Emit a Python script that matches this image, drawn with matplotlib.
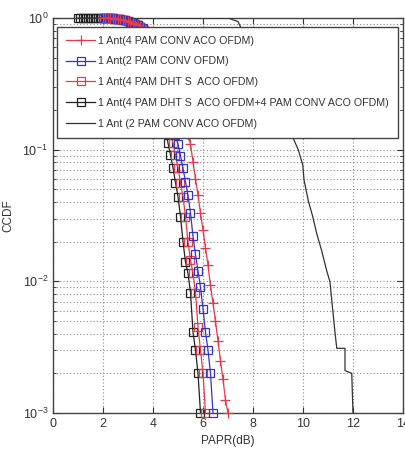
import matplotlib
matplotlib.use("Agg")
import matplotlib.pyplot as plt
from matplotlib.ticker import LogLocator, FixedLocator, NullFormatter

plt.rcParams['font.family'] = ['Liberation Sans', 'DejaVu Sans']

# ---- data ----
# common near-1 head shared by the marker curves (PAPR 2.0 .. 3.5 dB)
head_x = [2.0, 2.1, 2.2, 2.3, 2.4, 2.5, 2.6, 2.7, 2.8, 2.9, 3.0, 3.1, 3.2, 3.3, 3.4, 3.5]
head_ccdf = [1.0, 0.999, 0.998, 0.996, 0.993, 0.99, 0.985, 0.978, 0.97, 0.96,
             0.948, 0.934, 0.918, 0.9, 0.88, 0.86]

# black squares: 4 PAM DHT S ACO + 4 PAM CONV ACO (starts at 1.0 dB)
blk_lead_x = [1.0, 1.1, 1.2, 1.3, 1.4, 1.5, 1.6, 1.7, 1.8, 1.9]
blk_lead_ccdf = [1.0, 1.0, 1.0, 1.0, 1.0, 1.0, 1.0, 1.0, 1.0, 1.0]
blk_x = [3.6, 3.7, 3.8, 3.9, 4.0, 4.1, 4.2, 4.3, 4.4, 4.5,
         4.6, 4.7, 4.8, 4.9, 5.0, 5.1, 5.2, 5.3, 5.4, 5.5, 5.6, 5.7, 5.8, 5.9]
blk_ccdf = [0.82, 0.77, 0.7, 0.62, 0.53, 0.44, 0.35, 0.26, 0.19, 0.145,
            0.112, 0.091, 0.073, 0.056, 0.044, 0.031, 0.02, 0.014, 0.0115,
            0.0082, 0.0041, 0.003, 0.002, 0.001]

# red squares: 4 PAM DHT S ACO OFDM
rsq_x = [3.6, 3.7, 3.8, 3.9, 4.0, 4.1, 4.2, 4.3, 4.4, 4.5, 4.6, 4.7,
         4.8, 4.9, 5.0, 5.1, 5.2, 5.3, 5.4, 5.5, 5.6, 5.7, 5.8, 5.9, 6.0, 6.1]
rsq_ccdf = [0.83, 0.79, 0.74, 0.67, 0.6, 0.52, 0.44, 0.36, 0.28, 0.21, 0.16, 0.135,
            0.112, 0.091, 0.073, 0.056, 0.044, 0.031, 0.02, 0.0145, 0.0115,
            0.0082, 0.0045, 0.003, 0.002, 0.001]

# blue squares: 2 PAM CONV OFDM
blu_x = [3.6, 3.7, 3.8, 3.9, 4.0, 4.1, 4.2, 4.3, 4.4, 4.5, 4.6, 4.7, 4.8, 4.9,
         5.0, 5.1, 5.2, 5.3, 5.4, 5.5, 5.6, 5.7, 5.8, 5.9, 6.0, 6.1, 6.2, 6.3, 6.4]
blu_ccdf = [0.84, 0.8, 0.76, 0.7, 0.64, 0.57, 0.5, 0.43, 0.36, 0.29, 0.23, 0.18, 0.15, 0.13,
            0.11, 0.09, 0.072, 0.057, 0.045, 0.033, 0.022, 0.016, 0.012, 0.009,
            0.0062, 0.0041, 0.003, 0.002, 0.001]

# red plus: 4 PAM CONV ACO OFDM
rpl_x = [3.6, 3.7, 3.8, 3.9, 4.0, 4.1, 4.2, 4.3, 4.4, 4.5, 4.6, 4.7, 4.8, 4.9,
         5.0, 5.1, 5.2, 5.3, 5.4, 5.5, 5.6, 5.7, 5.8, 5.9, 6.0, 6.1, 6.2, 6.3,
         6.4, 6.5, 6.6, 6.7, 6.8, 6.9, 7.0]
rpl_ccdf = [0.85, 0.83, 0.8, 0.77, 0.73, 0.69, 0.64, 0.59, 0.53, 0.47, 0.41, 0.35, 0.3, 0.25,
            0.21, 0.18, 0.16, 0.145, 0.13, 0.11, 0.081, 0.06, 0.045, 0.033, 0.0245,
            0.018, 0.0132, 0.0093, 0.0068, 0.005, 0.0035, 0.0025, 0.0018, 0.00126, 0.001]

# plain black line: 1 Ant (2 PAM CONV ACO OFDM)
conv_x = [1.0, 7.0, 7.4, 9.6, 9.81, 9.99, 10.04, 10.21, 10.39, 10.55, 10.75, 10.95,
          11.08, 11.15, 11.28, 11.35, 11.68, 11.68, 11.95, 12.0]
conv_ccdf = [1.0, 1.0, 0.94, 0.123, 0.1, 0.0765, 0.059, 0.041, 0.031, 0.023, 0.017, 0.012,
             0.0099, 0.0072, 0.0041, 0.0031, 0.0031, 0.0021, 0.002, 0.001]

labels = ["1 Ant(4 PAM CONV ACO OFDM)",
          "1 Ant(2 PAM CONV OFDM)",
          "1 Ant(4 PAM DHT S  ACO OFDM)",
          "1 Ant(4 PAM DHT S  ACO OFDM+4 PAM CONV ACO OFDM)",
          "1 Ant (2 PAM CONV ACO OFDM)"]

xticks = [0, 2, 4, 6, 8, 10, 12, 14]

# ---- figure ----
fig = plt.figure(figsize=(4.06, 4.55), dpi=100)
ax = fig.add_axes([53/406, 42/455, 350/406, 395/455])

RED = '#e23a4e'
BLUE = '#3434c4'
ms = 5.5

hb, = ax.plot(blk_lead_x + head_x + blk_x, blk_lead_ccdf + head_ccdf + blk_ccdf,
              color='#222222', lw=0.9, marker='s', ms=ms, mfc='none', mew=0.9,
              clip_on=False, zorder=2)
hs, = ax.plot(head_x + rsq_x, head_ccdf + rsq_ccdf, color=RED, lw=0.9, marker='s',
              ms=ms, mfc='none', mew=0.9, clip_on=False, zorder=3)
hu, = ax.plot(head_x + blu_x, head_ccdf + blu_ccdf, color=BLUE, lw=0.9, marker='s',
              ms=ms, mfc='none', mew=0.9, clip_on=False, zorder=3)
hp, = ax.plot(head_x + rpl_x, head_ccdf + rpl_ccdf, color=RED, lw=0.9, marker='+',
              ms=6.5, mew=0.9, clip_on=False, zorder=4)
hc, = ax.plot(conv_x, conv_ccdf, color='#333333', lw=0.9, zorder=3)

ax.set_yscale('log')
ax.set_xlim(0, 14)
ax.set_ylim(1e-3, 1)
ax.xaxis.set_major_locator(FixedLocator(xticks))
ax.yaxis.set_major_locator(LogLocator(base=10, numticks=10))
ax.yaxis.set_minor_locator(LogLocator(base=10, subs=range(2, 10), numticks=20))
ax.yaxis.set_minor_formatter(NullFormatter())

ax.grid(True, which='major', axis='x', linestyle=(0, (1, 2)), color='#888888', lw=0.8)
ax.grid(True, which='both', axis='y', linestyle=(0, (1, 2)), color='#888888', lw=0.8)

ax.tick_params(which='both', direction='in', top=True, right=True,
               labelsize=9, colors='#333333', labelcolor='#333333')
ax.tick_params(which='major', length=4)
ax.tick_params(which='minor', length=2)
for s in ax.spines.values():
    s.set_color('#444444')
    s.set_linewidth(1.0)

ax.set_xlabel('PAPR(dB)', fontsize=8.5, color='#333333', labelpad=4)
ax.set_ylabel('CCDF', fontsize=8.5, color='#333333')
ax.yaxis.set_label_coords(-0.11, 0.5)

leg = ax.legend([hp, hu, hs, hb, hc], labels, loc='upper left',
                bbox_to_anchor=(0.012, 0.978, 0.975, 0), mode='expand', borderaxespad=0,
                fontsize=7.7, handlelength=2.7, handletextpad=0.3, labelspacing=1.0,
                borderpad=0.85, fancybox=False, framealpha=1, edgecolor='#444444',
                numpoints=1)
leg.get_frame().set_linewidth(1.0)
leg.set_zorder(10)
for t in leg.get_texts():
    t.set_color('#333333')

fig.savefig('out.png', dpi=100)
